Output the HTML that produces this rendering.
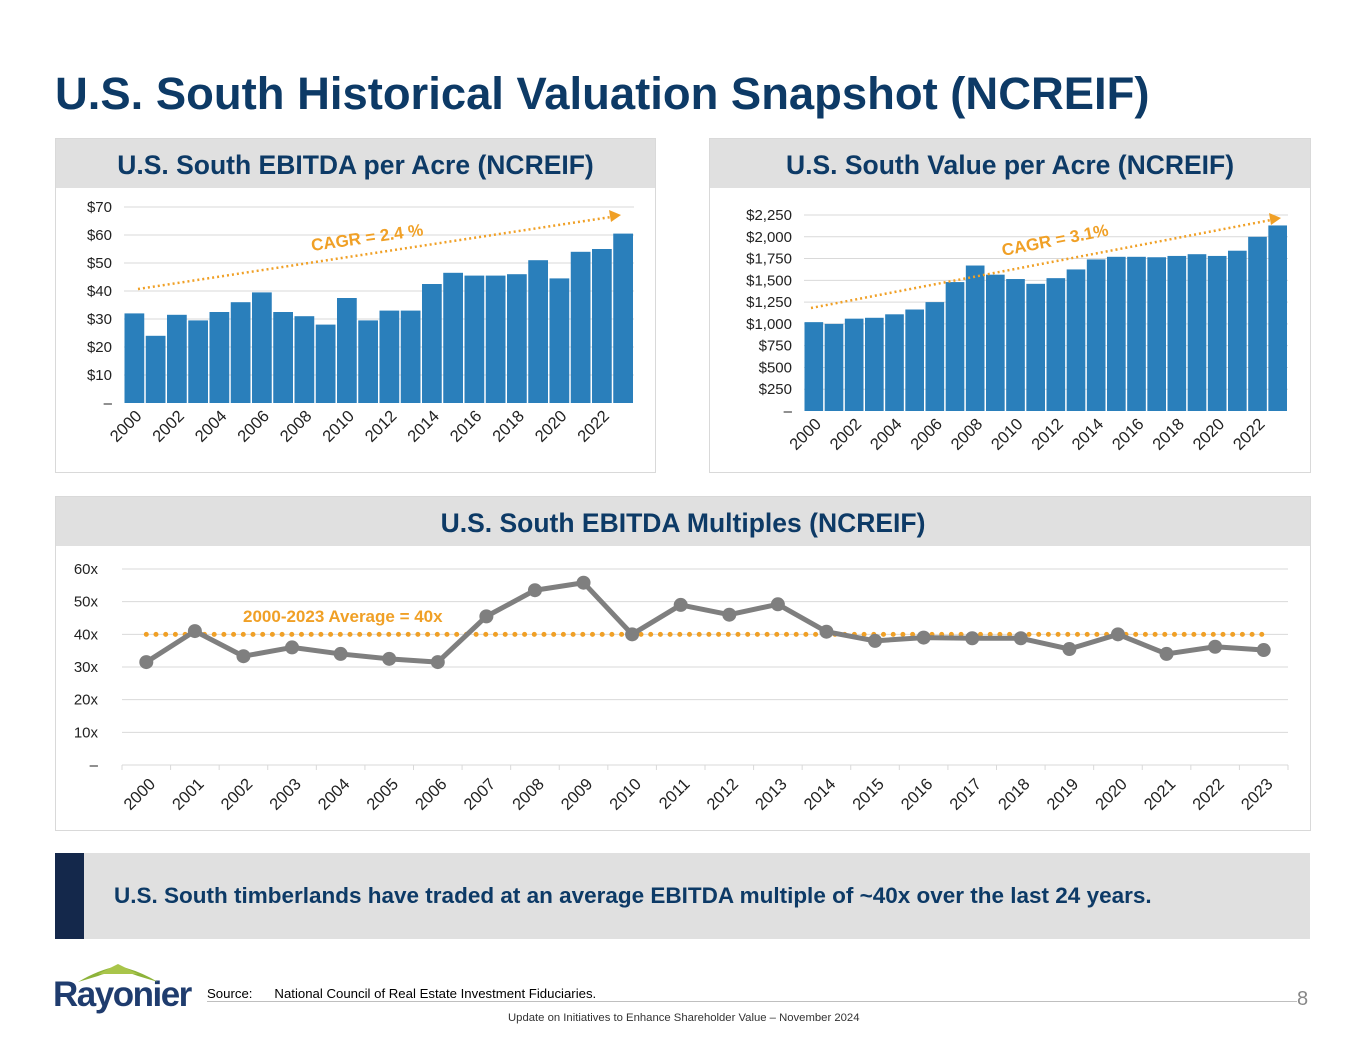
<!DOCTYPE html>
<html><head><meta charset="utf-8"><style>
body{margin:0;width:1365px;height:1055px;background:#fff;font-family:"Liberation Sans",Arial,sans-serif;overflow:hidden;position:relative}
.abs{position:absolute}
.panel{position:absolute;border:1px solid #d9d9d9;background:#fff;box-sizing:border-box}
.hdr{position:absolute;left:0;top:0;right:0;height:49px;background:#e0e0e0;color:#0d3a66;font-weight:bold;font-size:26.5px;text-align:center;line-height:52px}
svg text{font-family:"Liberation Sans",Arial,sans-serif}
</style></head><body>
<div class="abs" style="left:55px;top:68px;font-size:45.4px;font-weight:bold;color:#0d3a66">U.S. South Historical Valuation Snapshot (NCREIF)</div>
<div class="panel" style="left:55px;top:138px;width:601px;height:335px"><div class="hdr">U.S. South EBITDA per Acre (NCREIF)</div></div>
<div class="panel" style="left:709px;top:138px;width:602px;height:335px"><div class="hdr">U.S. South Value per Acre (NCREIF)</div></div>
<div class="panel" style="left:55px;top:496px;width:1256px;height:335px"><div class="hdr">U.S. South EBITDA Multiples (NCREIF)</div></div>
<div class="abs" style="left:55px;top:853px;width:1255px;height:86px;background:#e0e0e0"><div style="position:absolute;left:0;top:0;width:29px;height:86px;background:#14284b"></div><div style="position:absolute;left:59px;top:30px;font-size:22.5px;font-weight:bold;color:#0d3a66">U.S. South timberlands have traded at an average EBITDA multiple of ~40x over the last 24 years.</div></div>
<svg id="s" class="abs" style="left:0;top:0" width="1365" height="1055"></svg>
<div class="abs" style="left:53px;top:975px;font-size:35px;font-weight:bold;color:#1f3c6e;letter-spacing:-1.5px">Rayonier</div>
<svg class="abs" style="left:78px;top:962px" width="80" height="24"><path d="M0 20 Q20 8 40 4 Q60 8 80 20 L60 14 Q40 6 20 14Z" fill="#8db33a"/><path d="M20 12 L40 2 L60 12Z" fill="#a9c54a"/></svg>
<div class="abs" style="left:207px;top:986px;font-size:13.2px;color:#000">Source:&nbsp;&nbsp;&nbsp;&nbsp;&nbsp;&nbsp;National Council of Real Estate Investment Fiduciaries.</div>
<div class="abs" style="left:207px;top:1001px;width:1090px;height:1px;background:#bfbfbf"></div>
<div class="abs" style="left:508px;top:1012px;font-size:11.3px;color:#333">Update on Initiatives to Enhance Shareholder Value – November 2024</div>
<div class="abs" style="left:1297px;top:988px;font-size:20px;color:#888">8</div>
<script>
const years=[];for(let y=2000;y<=2023;y++)years.push(String(y));
const ebitdaVals=[32,24,31.5,29.5,32.5,36,39.5,32.5,31,28,37.5,29.5,33,33,42.5,46.5,45.5,45.5,46,51,44.5,54,55,60.5];
const ebitdaTicks=['–','$10','$20','$30','$40','$50','$60','$70'];
const valueVals=[1020,1000,1060,1070,1110,1165,1250,1480,1670,1565,1515,1460,1525,1625,1740,1770,1770,1765,1780,1800,1780,1840,2000,2130];
const valueTicks=['–','$250','$500','$750','$1,000','$1,250','$1,500','$1,750','$2,000','$2,250'];
const multVals=[31.5,41,33.3,36,34,32.5,31.5,45.5,53.5,55.8,40,49,46,49.2,40.8,38,39,38.8,38.8,35.5,40,34,36.2,35.2];
const multTicks=['–','10x','20x','30x','40x','50x','60x'];
const multAvg=40;
const S=document.getElementById('s'),NS='http://www.w3.org/2000/svg';
function el(t,a,p){const e=document.createElementNS(NS,t);for(const k in a)e.setAttribute(k,a[k]);(p||S).appendChild(e);return e;}
function bars(x0,x1,yTop,y0,max,step,vals,ticks,name,lblEvery,cagr){
 const ys=v=>y0-(v/max)*(y0-yTop);const bw=(x1-x0)/vals.length;
 ticks.forEach((t,i)=>{const y=ys(i*step);
  if(i>0){const g=el('line',{x1:x0,x2:x1,y1:y,y2:y,stroke:'#d9d9d9','stroke-width':1});}
  const tx=el('text',{x:x0-12,y:y+5,'text-anchor':'end','font-size':15,fill:'#222'});tx.textContent=t;
  });
 vals.forEach((v,i)=>{const r=el('rect',{x:x0+i*bw+0.5,y:ys(v),width:bw-1.5,height:y0-ys(v),fill:'#2a7fbb'});
  
  if(i%lblEvery===0){const cx=x0+i*bw+bw/2+8,cy=y0+14;const tx=el('text',{x:cx,y:cy,'text-anchor':'end','font-size':16.5,fill:'#222',transform:`rotate(-45 ${cx} ${cy})`});tx.textContent=years[i];
  }});
 const c=cagr;const tl=el('line',{x1:c[0],y1:c[1],x2:c[2]-10,y2:c[3]+2,stroke:'#f0a026','stroke-width':2.5,'stroke-dasharray':'2 3'});
 
 const ah=el('polygon',{points:`${c[2]},${c[3]} ${c[2]-12},${c[3]-5} ${c[2]-10},${c[3]+7}`,fill:'#f0a026'});
 
 const lt=el('text',{x:c[4],y:c[5],'font-size':17,'font-weight':'bold',fill:'#f0a026',transform:`rotate(${c[7]} ${c[4]} ${c[5]})`});lt.textContent=c[6];
 
}
bars(124,634,207,403,70,10,ebitdaVals,ebitdaTicks,'ebitda',2,[138,289,621,215,312,251,'CAGR = 2.4 %',-8]);
bars(804,1288,215,411,2250,250,valueVals,valueTicks,'value',2,[811,308,1281,218,1003,256,'CAGR = 3.1%',-11]);
(function(){const x0=122,x1=1288,yTop=569,y0=765,max=60;const ys=v=>y0-(v/max)*(y0-yTop);const bw=(x1-x0)/multVals.length;const xs=i=>x0+bw*i+bw/2;
 multTicks.forEach((t,i)=>{const y=ys(i*10);
  if(i>0){const g=el('line',{x1:x0,x2:x1,y1:y,y2:y,stroke:'#d9d9d9'});}
  const tx=el('text',{x:x0-24,y:y+5,'text-anchor':'end','font-size':15,fill:'#222'});tx.textContent=t;
  });
 const ax=el('line',{x1:x0,x2:x1,y1:y0,y2:y0,stroke:'#d9d9d9'});
 for(let i=0;i<=multVals.length;i++){const t=el('line',{x1:x0+bw*i,x2:x0+bw*i,y1:y0,y2:y0+5,stroke:'#d9d9d9'});}
 const av=el('line',{x1:xs(0),x2:xs(multVals.length-1),y1:ys(multAvg),y2:ys(multAvg),stroke:'#f0a026','stroke-width':5,'stroke-linecap':'round','stroke-dasharray':'0 9.7'});
 
 const at=el('text',{x:243,y:622,'font-size':17,'font-weight':'bold',fill:'#f0a026'});at.textContent='2000-2023 Average = '+multAvg+'x';
 
 const pl=el('polyline',{points:multVals.map((v,i)=>xs(i)+','+ys(v)).join(' '),fill:'none',stroke:'#7f7f7f','stroke-width':5,'stroke-linejoin':'round'});
 
 multVals.forEach((v,i)=>{const c=el('circle',{cx:xs(i),cy:ys(v),r:7,fill:'#7f7f7f'});
  const cx=xs(i)+10,cy=y0+20;const tx=el('text',{x:cx,y:cy,'text-anchor':'end','font-size':16.5,fill:'#222',transform:`rotate(-45 ${cx} ${cy})`});tx.textContent=years[i];
  });
})();
</script>
</body></html>
